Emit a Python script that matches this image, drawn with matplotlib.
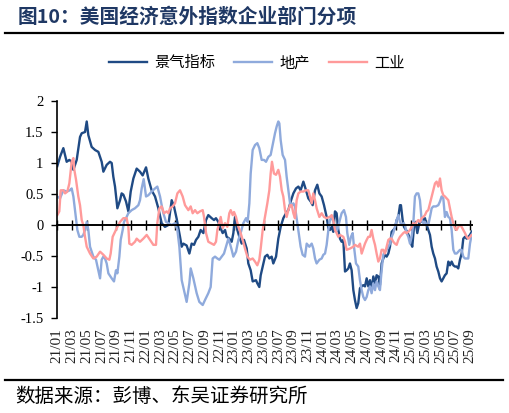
import matplotlib
matplotlib.use("Agg")
import matplotlib.pyplot as plt
import matplotlib.transforms as mtransforms
from matplotlib.lines import Line2D

# ---------------- data (time in months since 2021/01) ----------------
t_jq = [0.0, 0.37, 0.82, 1.27, 1.63, 1.95, 2.18, 2.63, 3.08, 3.31, 3.76, 3.99, 4.21, 4.66, 5.12, 5.57,
        6.02, 6.25, 6.70, 7.15, 7.38, 7.60, 7.83, 8.15, 8.51, 8.73, 8.96, 9.32, 9.64, 9.96, 10.32,
        10.77, 11.22, 11.58, 12.04, 12.35, 12.80, 13.26, 13.71, 14.16, 14.61, 15.07, 15.52, 15.83,
        16.20, 16.65, 16.88, 17.10, 17.55, 17.92, 18.23, 18.55, 18.82, 19.14, 19.45, 19.82, 20.18,
        20.49, 20.95, 21.26, 21.53, 21.85, 22.08, 22.44, 22.76, 22.98, 23.34, 23.66, 23.89, 24.11,
        24.43, 24.70, 25.02, 25.33, 25.70, 25.92, 26.24, 26.51, 26.96, 27.14, 27.41, 27.60, 27.87,
        28.18, 28.50, 28.77, 29.09, 29.31, 29.68, 29.99, 30.31, 30.67, 31.03, 31.35, 31.67, 32.03,
        32.39, 32.71, 33.02, 33.39, 33.75, 34.06, 34.38, 34.65, 34.97, 35.28, 35.56, 35.87, 36.19,
        36.55, 36.78, 37.0, 37.23, 37.45, 37.68, 37.90, 38.13, 38.36, 38.58, 38.81, 39.04, 39.26,
        39.49, 39.71, 39.94, 40.17, 40.39, 40.62, 40.84, 41.07, 41.30, 41.52, 41.75, 41.98, 42.20,
        42.43, 42.65, 42.88, 43.11, 43.33, 43.56, 43.78, 44.01, 44.24, 44.46, 44.69, 44.92, 45.14,
        45.37, 45.59, 45.82, 46.05, 46.27, 46.50, 46.63, 46.86, 47.04, 47.31, 47.49, 47.76, 47.99,
        48.17, 48.40, 48.62, 48.85, 49.12, 49.30, 49.57, 49.89, 50.12, 50.34, 50.57, 50.80, 51.02,
        51.25, 51.47, 51.70, 51.93, 52.15, 52.38, 52.60, 52.83, 53.06, 53.28, 53.51, 53.74, 53.96,
        54.19, 54.41, 54.64, 54.87, 55.09, 55.32, 55.55, 55.77, 56.00, 56.22, 56.45]
v_jq = [0.95, 1.10, 1.24, 1.02, 1.05, 1.02, 0.89, 1.05, 1.42, 1.48, 1.50, 1.67, 1.45, 1.26, 1.21, 1.18,
        1.02, 0.86, 0.97, 1.02, 1.00, 0.78, 0.62, 0.27, 0.40, 0.51, 0.49, 0.38, 0.22, 0.54, 0.75,
        0.91, 0.86, 0.80, 0.93, 0.75, 0.56, 0.46, 0.27, 0.03, -0.03, 0.00, 0.40, 0.30,
        0.10, -0.19, -0.35, -0.30, -0.33, -0.46, -0.30, -0.32, -0.24, -0.19, -0.08, -0.13, 0.08,
        0.16, 0.11, 0.08, 0.11, 0.05, -0.03, -0.13, -0.08, -0.19, -0.22, -0.27, -0.13, 0.13,
        -0.08, -0.19, -0.30, -0.24, -0.38, -0.62, -0.73, -0.91, -0.89, -0.94, -1.00, -0.81, -0.67,
        -0.51, -0.48, -0.54, -0.51, -0.62, -0.51, -0.22, -0.03, 0.11, 0.19, 0.24, 0.38, 0.51,
        0.59, 0.62, 0.56, 0.70, 0.56, 0.43, 0.38, 0.32, 0.56, 0.65, 0.51, 0.46, 0.32,
        0.13, -0.05, -0.08, -0.03, -0.11, 0.22, 0.19, -0.08, -0.22, -0.27, -0.24, -0.75, -0.73,
        -0.70, -0.62, -0.73, -1.05, -1.21, -1.34, -1.26, -1.02, -0.99, -0.97, -0.99, -0.86, -0.99,
        -0.89, -1.05, -0.83, -0.94, -0.81, -0.83, -0.97, -0.62, -0.54, -0.48, -0.51, -0.46, -0.35,
        -0.11, -0.08, -0.05, 0.08, 0.13, 0.32, 0.32, 0.08, -0.03, -0.08, -0.11, -0.19, -0.30,
        -0.35, -0.03, 0.05, -0.13, 0.03, 0.05, 0.08, 0.11, 0.00, -0.08, -0.16, -0.35, -0.46,
        -0.54, -0.67, -0.75, -0.86, -0.91, -0.86, -0.81, -0.78, -0.59, -0.65, -0.59, -0.65, -0.67,
        -0.67, -0.70, -0.56, -0.46, -0.22, -0.19, -0.22, -0.19, -0.16, -0.11, -0.08]

t_dc = [0.0, 0.37, 0.82, 1.27, 1.72, 1.95, 2.18, 2.40, 2.72, 2.99, 3.31, 3.53, 3.76, 3.99, 4.21, 4.44,
        4.89, 5.25, 5.57, 5.80, 6.02, 6.25, 6.47, 6.70, 6.93, 7.38, 7.69, 7.96, 8.15, 8.42, 8.60,
        8.87, 9.05, 9.32, 9.64, 10.09, 10.54, 11.00, 11.22, 11.45, 11.72, 12.04, 12.35, 12.80,
        13.26, 13.57, 13.94, 14.16, 14.39, 14.75, 15.07, 15.52, 15.97, 16.29, 16.56, 16.88, 17.19,
        17.55, 17.92, 18.10, 18.46, 18.91, 19.27, 19.45, 19.73, 20.04, 20.49, 20.81, 21.08, 21.40,
        21.72, 21.99, 22.30, 22.62, 22.89, 23.21, 23.43, 23.66, 23.89, 24.25, 24.57, 24.88, 25.24,
        25.61, 25.83, 26.06, 26.24, 26.51, 26.83, 27.14, 27.41, 27.73, 28.05, 28.32, 28.64, 28.95,
        29.22, 29.54, 29.77, 29.99, 30.13, 30.31, 30.58, 30.90, 31.12, 31.35, 31.58, 31.80, 32.03,
        32.25, 32.57, 32.84, 33.02, 33.29, 33.61, 33.84, 34.20, 34.52, 34.74, 34.97, 35.19, 35.56,
        35.87, 36.10, 36.33, 36.55, 36.78, 37.0, 37.23, 37.45, 37.68, 37.99, 38.27, 38.58, 38.90,
        39.17, 39.35, 39.62, 39.85, 40.08, 40.26, 40.53, 40.84, 41.07, 41.30, 41.52, 41.75, 41.98,
        42.20, 42.43, 42.65, 42.88, 43.11, 43.33, 43.56, 43.78, 44.01, 44.24, 44.46, 44.69, 44.92,
        45.14, 45.37, 45.59, 45.82, 46.05, 46.27, 46.50, 46.72, 46.95, 47.18, 47.40, 47.63, 47.86,
        48.08, 48.31, 48.53, 48.76, 48.99, 49.21, 49.44, 49.66, 49.89, 50.12, 50.34, 50.57, 50.80,
        51.02, 51.38, 51.70, 51.93, 52.15, 52.38, 52.60, 52.83, 53.06, 53.28, 53.51, 53.74, 53.96,
        54.19, 54.41, 54.64, 54.87, 55.09, 55.32, 55.55, 55.77, 56.00, 56.22, 56.45]
v_dc = [0.46, 0.43, 0.56, 0.54, 0.56, 0.59, 0.46, 0.24, -0.08, -0.19, -0.19, -0.16, -0.08, 0.05, -0.08, -0.35,
        -0.51, -0.56, -0.73, -0.86, -0.56, -0.51, -0.54, -0.62, -0.78, -0.86, -0.91, -0.73, -0.78, -0.51, -0.24,
        -0.08, 0.05, 0.11, 0.19, 0.24, 0.27, 0.32, 0.40, 0.59, 0.74, 0.46, 0.48, 0.54,
        0.59, 0.62, 0.46, 0.32, 0.19, 0.05, 0.03, 0.00, 0.03, -0.08, -0.35, -0.89, -1.05,
        -1.24, -0.94, -0.70, -0.86, -1.10, -1.24, -1.26, -1.29, -1.21, -1.10, -1.00, -0.54, -0.51,
        -0.54, -0.56, -0.51, -0.46, -0.35, -0.22, -0.30, -0.40, -0.51, -0.43, -0.24, -0.13, 0.03,
        0.11, 0.05, 0.35, 0.83, 1.21, 1.29, 1.32, 1.24, 1.05, 1.05, 1.02, 1.10, 1.13,
        1.29, 1.48, 1.59, 1.67, 1.64, 1.37, 1.13, 1.05, 0.78, 0.56, 0.35, 0.30, 0.35,
        0.30, 0.03, -0.19, -0.35, -0.48, -0.51, -0.30, -0.35, -0.30, -0.38, -0.54, -0.62, -0.56,
        -0.54, -0.48, -0.46, -0.32, -0.08, 0.08, 0.13, 0.05, -0.03, -0.08, 0.05, 0.19, 0.24,
        0.13, -0.13, -0.32, -0.19, -0.13, -0.35, -0.62, -0.67, -0.89, -1.05, -1.16, -1.21, -1.16,
        -1.05, -0.99, -1.10, -0.94, -1.05, -0.91, -0.99, -1.05, -0.73, -0.48, -0.43, -0.40, -0.35,
        -0.30, -0.19, -0.13, -0.03, 0.08, 0.16, 0.05, 0.00, 0.03, 0.00, -0.13, -0.19, -0.30,
        -0.19, 0.03, 0.46, 0.51, 0.51, 0.40, 0.08, 0.03, 0.05, 0.00, 0.00, 0.13, 0.27,
        0.30, 0.30, 0.32, 0.38, 0.46, 0.43, 0.13, 0.21, 0.13, 0.11, -0.08, -0.40, -0.46,
        -0.46, -0.43, -0.40, -0.40, -0.51, -0.54, -0.54, -0.54, -0.30, -0.16, -0.11]

t_gy = [0.0, 0.27, 0.46, 0.82, 1.05, 1.36, 1.63, 1.95, 2.18, 2.31, 2.54, 2.85, 3.08, 3.31, 3.53, 3.76,
        3.99, 4.44, 4.89, 5.34, 5.80, 6.25, 6.70, 7.06, 7.24, 7.51, 7.83, 8.15, 8.51, 8.96, 9.41,
        9.64, 9.77, 10.09, 10.54, 10.77, 11.22, 11.67, 12.13, 12.58, 13.03, 13.39, 13.57, 13.85,
        14.16, 14.48, 14.84, 15.07, 15.29, 15.65, 15.97, 16.29, 16.65, 17.01, 17.33, 17.78, 18.10,
        18.37, 18.69, 19.00, 19.36, 19.73, 19.91, 20.18, 20.49, 20.95, 21.26, 21.53, 21.72, 21.99,
        22.17, 22.44, 22.76, 23.07, 23.34, 23.53, 23.80, 23.98, 24.25, 24.57, 24.88, 25.15, 25.47,
        25.79, 26.15, 26.51, 26.83, 27.14, 27.41, 27.60, 27.87, 28.18, 28.50, 28.77, 28.95, 29.13,
        29.40, 29.68, 29.99, 30.22, 30.45, 30.67, 30.90, 31.12, 31.35, 31.58, 31.80, 32.03, 32.25,
        32.48, 32.71, 33.02, 33.39, 33.75, 34.06, 34.29, 34.52, 34.74, 34.97, 35.19, 35.56, 35.87,
        36.19, 36.55, 36.91, 37.0, 37.23, 37.45, 37.68, 37.90, 38.13, 38.36, 38.81, 39.04, 39.26,
        39.71, 40.17, 40.39, 40.84, 41.07, 41.30, 41.52, 41.75, 41.98, 42.20, 42.43, 42.65, 42.88,
        43.11, 43.33, 43.56, 43.78, 44.01, 44.24, 44.46, 44.69, 44.92, 45.14, 45.37, 45.59, 45.82,
        46.05, 46.27, 46.50, 46.95, 47.18, 47.40, 47.63, 47.86, 48.08, 48.31, 48.53, 48.76, 48.99,
        49.21, 49.44, 49.66, 49.89, 50.12, 50.34, 50.57, 50.80, 51.02, 51.25, 51.47, 51.70, 51.93,
        52.15, 52.38, 52.60, 52.83, 53.06, 53.28, 53.51, 53.74, 53.96, 54.19, 54.41, 54.64, 54.87,
        55.09, 55.32, 55.55, 55.77, 56.00, 56.22, 56.45]
v_gy = [0.16, 0.22, 0.56, 0.56, 0.51, 0.54, 0.67, 1.02, 1.08, 0.89, 0.73, 0.46, 0.32, 0.08, 0.00, -0.19,
        -0.35, -0.46, -0.54, -0.51, -0.43, -0.48, -0.54, -0.56, -0.46, -0.19, -0.11, -0.03, 0.05, 0.11, 0.11,
        -0.03, -0.30, -0.32, -0.27, -0.22, -0.27, -0.22, -0.16, -0.24, -0.32, -0.32, 0.03, 0.27,
        0.30, 0.19, 0.22, 0.19, 0.27, 0.30, 0.35, 0.51, 0.56, 0.46, 0.32, 0.24, 0.30,
        0.19, 0.24, 0.19, 0.22, 0.24, 0.13, -0.13, -0.27, -0.30, -0.32, -0.27, -0.08, 0.05,
        0.13, -0.05, 0.03, -0.03, 0.19, 0.24, 0.16, 0.21, 0.13, -0.03, -0.13, -0.24, -0.38,
        -0.51, -0.56, -0.54, -0.59, -0.65, -0.56, -0.38, -0.08, 0.13, 0.35, 0.56, 0.83, 1.02,
        0.83, 0.81, 0.89, 0.78, 0.56, 0.46, 0.24, 0.13, 0.24, 0.32, 0.32, 0.19, 0.11,
        0.40, 0.51, 0.54, 0.54, 0.56, 0.56, 0.46, 0.35, 0.51, 0.40, 0.27, 0.13, 0.19,
        0.13, 0.11, 0.13, 0.13, 0.16, 0.08, -0.08, -0.13, -0.19, -0.16, -0.19, -0.27, -0.40,
        -0.38, -0.35, -0.32, -0.35, -0.30, -0.46, -0.38, -0.30, -0.24, -0.19, -0.19, -0.08, -0.22,
        -0.32, -0.46, -0.59, -0.54, -0.40, -0.40, -0.46, -0.35, -0.24, -0.22, -0.22, -0.27, -0.30,
        -0.32, -0.24, -0.19, -0.13, -0.11, -0.13, -0.11, -0.08, -0.03, 0.03, 0.00, 0.05, 0.08,
        0.05, 0.11, 0.13, 0.16, 0.22, 0.24, 0.35, 0.46, 0.56, 0.67, 0.70, 0.62, 0.75,
        0.56, 0.48, 0.46, 0.43, 0.40, 0.27, 0.13, 0.03, -0.05, -0.08, -0.03, 0.00, -0.03,
        -0.08, -0.13, -0.19, -0.22, -0.19, -0.16, -0.19]

tick_labels = ["21/01", "21/03", "21/05", "21/07", "21/09", "21/11",
               "22/01", "22/03", "22/05", "22/07", "22/09", "22/11",
               "23/01", "23/03", "23/05", "23/07", "23/09", "23/11",
               "24/01", "24/03", "24/05", "24/07", "24/09", "24/11",
               "25/01", "25/03", "25/05", "25/07", "25/09"]
y_ticks = [-1.5, -1, -0.5, 0, 0.5, 1, 1.5, 2]
series_names = ["景气指标", "地产", "工业"]
colors = ["#1F4A84", "#8FAADC", "#FF9A9A"]

# ---------------- figure ----------------
CJK = ["Noto Sans CJK SC", "DejaVu Sans"]
SERIF = ["Liberation Serif", "DejaVu Serif"]

fig = plt.figure(figsize=(5.09, 4.13), dpi=100)
ax = fig.add_axes([0.1126, 0.2300, 0.8151, 0.5254])

for t, v, c, n in zip([t_jq, t_dc, t_gy], [v_jq, v_dc, v_gy], colors, series_names):
    ax.plot(t, v, color=c, lw=1.7, label=n, solid_joinstyle="round")

ax.set_xlim(0, 56.3)
ax.set_ylim(-1.5, 2)

# y axis
ax.set_yticks(y_ticks)
ax.set_yticklabels([f"{y:g}" for y in y_ticks], fontfamily=SERIF, fontsize=10.5)
ax.tick_params(axis="y", direction="out", length=4, width=1, pad=6)

# x axis on zero line
ax.spines["bottom"].set_position(("data", 0))
ax.spines["bottom"].set_linewidth(1.4)
ax.spines["left"].set_linewidth(1.2)
ax.spines["top"].set_visible(False)
ax.spines["right"].set_visible(False)
xt = [2 * i for i in range(len(tick_labels))]
ax.set_xticks(xt)
ax.set_xticklabels([])
ax.tick_params(axis="x", direction="inout", length=7, width=1)
trans = mtransforms.blended_transform_factory(ax.transData, ax.transAxes)
for x, lab in zip(xt, tick_labels):
    ax.text(x, -0.046, lab, transform=trans, rotation=90, ha="center", va="top",
            fontfamily=SERIF, fontsize=11, color="#222222")

# title and rules
fig.text(0.035, 0.958, "图10：美国经济意外指数企业部门分项", fontfamily=CJK, fontsize=14.2,
         fontweight="bold", color="#1F3864", ha="left", va="center")
fig.add_artist(Line2D([0.01, 0.988], [0.92, 0.92], color="black", lw=1.6,
                      transform=fig.transFigure))
fig.add_artist(Line2D([0.01, 0.988], [0.08, 0.08], color="black", lw=1.6,
                      transform=fig.transFigure))
fig.text(0.029, 0.039, "数据来源：彭博、东吴证券研究所", fontfamily=CJK, fontsize=14,
         color="black", ha="left", va="center")

# legend
handles, labels = ax.get_legend_handles_labels()
fig.legend(handles, labels, loc="center", bbox_to_anchor=(0.504, 0.8475), ncol=3,
           frameon=False, prop={"family": CJK, "size": 11}, handlelength=2.5,
           handletextpad=0.45, columnspacing=1.25)

fig.savefig("out.png", dpi=100)
